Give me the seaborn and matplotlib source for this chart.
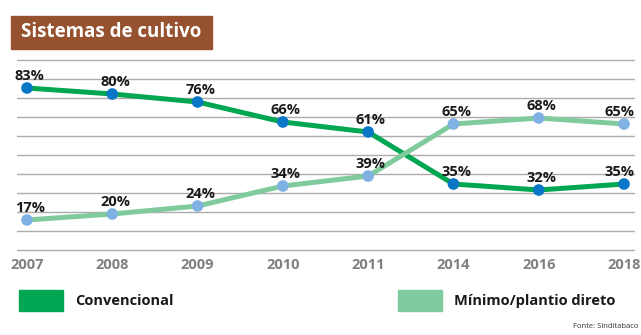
import matplotlib
matplotlib.use("Agg")
import matplotlib.pyplot as plt
import seaborn as sns
import numpy as np
import pandas as pd
from matplotlib.patches import Rectangle

years = ["2007", "2008", "2009", "2010", "2011", "2014", "2016", "2018"]
convencional = [83, 80, 76, 66, 61, 35, 32, 35]
minimo = [17, 20, 24, 34, 39, 65, 68, 65]
series_names = ["Convencional", "Mínimo/plantio direto"]
title = "Sistemas de cultivo"
source = "Fonte: Sinditabaco"

sns.set_theme(style="white")
plt.rcParams['font.family'] = ['Open Sans', 'DejaVu Sans']

C_LINE = "#00A651"
C_MARK = "#0A76C6"
M_LINE = "#80CB9E"
M_MARK = "#7FB1E3"
BROWN = "#96512F"

fig = plt.figure(figsize=(6.41, 3.35), dpi=100)
ax = fig.add_axes([17/641, 85/335, 617/641, 190/335])

pos = np.arange(len(years))
df = pd.DataFrame({"x": pos, "conv": convencional, "min": minimo})

sns.lineplot(data=df, x="x", y="conv", ax=ax, color=C_LINE, linewidth=3.6, zorder=3)
sns.lineplot(data=df, x="x", y="min", ax=ax, color=M_LINE, linewidth=3.6, zorder=4)
sns.scatterplot(data=df, x="x", y="conv", ax=ax, color=C_MARK, s=70, edgecolor="none", zorder=5)
sns.scatterplot(data=df, x="x", y="min", ax=ax, color=M_MARK, s=70, edgecolor="none", zorder=5)

for i in range(len(years)):
    dx = 2 if i < len(years) - 1 else -3
    for v in (convencional[i], minimo[i]):
        ax.annotate(f"{v}%", (pos[i], v), xytext=(dx, 9), textcoords="offset points",
                    ha="center", va="center", fontsize=10.5, fontweight="bold",
                    color="#1a1a1a", zorder=6)

ax.set_xlim(-0.117, 7.117)
ax.set_ylim(2, 97)
ax.set_yticks(np.linspace(2, 97, 11))
ax.set_yticklabels([])
ax.set_xticks(pos)
ax.set_xticklabels(years, fontsize=10.5, fontweight="bold", color="#808080")
ax.tick_params(axis="x", length=0, pad=6)
ax.tick_params(axis="y", length=0)
ax.grid(axis="y", color="#acacac", linewidth=1.0)
ax.grid(axis="x", visible=False)
for gl in ax.get_ygridlines():
    gl.set_clip_on(False)
for s in ax.spines.values():
    s.set_visible(False)
ax.set_xlabel("")
ax.set_ylabel("")

# Title box
fig.patches.append(Rectangle((11/641, 1 - 49/335), 201/641, 33/335,
                             transform=fig.transFigure, color=BROWN, zorder=1))
fig.text(21/641, 1 - 32/335, title, ha="left", va="center", fontsize=13.5,
         fontweight="bold", color="white", zorder=2)

# Legend
fig.patches.append(Rectangle((19/641, 1 - 311/335), 44/641, 21/335,
                             transform=fig.transFigure, color=C_LINE))
fig.text(75/641, 1 - 301/335, series_names[0], ha="left", va="center",
         fontsize=10.5, fontweight="bold", color="#1a1a1a")
fig.patches.append(Rectangle((398/641, 1 - 311/335), 44/641, 21/335,
                             transform=fig.transFigure, color=M_LINE))
fig.text(454/641, 1 - 301/335, series_names[1], ha="left", va="center",
         fontsize=10.5, fontweight="bold", color="#1a1a1a")

fig.text(638/641, 1 - 326/335, source, ha="right", va="center",
         fontsize=5.5, color="#333333")

fig.savefig("out.png", dpi=100)
